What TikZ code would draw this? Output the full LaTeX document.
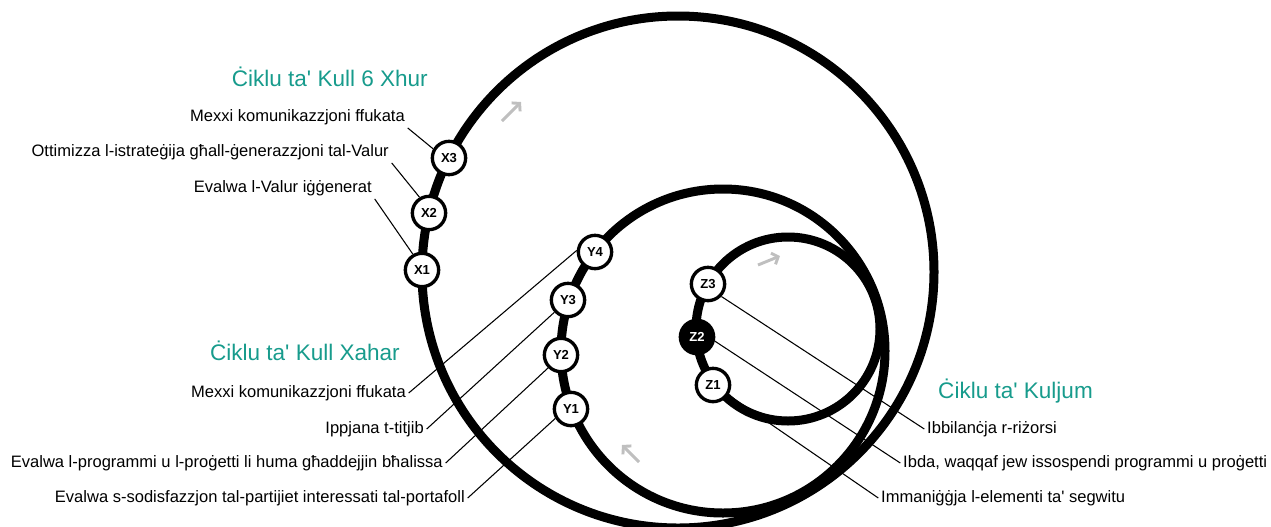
\documentclass[tikz,border=0pt]{standalone}
\usepackage{fontspec}
\setmainfont{Liberation Sans}[Ligatures=TeXOff]
\usetikzlibrary{arrows.meta}
\definecolor{tealtitle}{RGB}{23,155,140}
\definecolor{flowgray}{RGB}{191,191,191}
\begin{document}
\begin{tikzpicture}[x=0.75pt,y=-0.75pt,
  cycleloop/.style={line width=6.75pt},
  stage/.style={circle,draw,line width=2.5pt,fill=white,minimum size=25pt,inner sep=0pt,font=\fontsize{9.8}{10}\selectfont\bfseries},
  stagedark/.style={stage,fill=black,text=white},
  lbl/.style={font=\fontsize{12.4}{14}\selectfont,inner sep=2pt,text height=9pt,text depth=3pt},
  cycletitle/.style={font=\fontsize{16.9}{20}\selectfont,text=tealtitle,inner sep=2pt,text height=12pt,text depth=4pt},
  leader/.style={line width=0.8pt},
  flow/.style={flowgray,line width=2.2pt,-{Straight Barb[length=4pt,width=9pt]}}
]
\clip (0,0) rectangle (1271,526);

% loops
\draw[cycleloop] (678,272) circle[radius=192pt];
\draw[cycleloop] (723,351) circle[radius=121.5pt];
\draw[cycleloop] (788,329) circle[radius=69pt];

% direction arrows
\draw[flow] (502,121) -- (521,102);
\draw[flow] (639,462) -- (622,445);
\draw[flow] (758,265) -- (780,256);

% stage nodes
\node[stage] (X1) at (422,270) {X1};
\node[stage] (X2) at (429,213) {X2};
\node[stage] (X3) at (449,158) {X3};
\node[stage] (Y1) at (571,409) {Y1};
\node[stage] (Y2) at (561,355) {Y2};
\node[stage] (Y3) at (568,300) {Y3};
\node[stage] (Y4) at (595,252) {Y4};
\node[stage] (Z1) at (713,385) {Z1};
\node[stagedark] (Z2) at (697,337) {Z2};
\node[stage] (Z3) at (708,284) {Z3};

% titles
\node[cycletitle,anchor=east] (tX) at (430.7,81) {Ċiklu ta' Kull 6 Xhur};
\node[cycletitle,anchor=east] (tY) at (402.7,355) {Ċiklu ta' Kull Xahar};
\node[cycletitle,anchor=west] (tZ) at (935.3,393) {Ċiklu ta' Kuljum};

% labels
\node[lbl,anchor=east] (lX3) at (407.7,117) {Mexxi komunikazzjoni ffukata};
\node[lbl,anchor=east] (lX2) at (391.7,152) {Ottimizza l-istrateġija għall-ġenerazzjoni tal-Valur};
\node[lbl,anchor=east] (lX1) at (374.7,188) {Evalwa l-Valur iġġenerat};

\node[lbl,anchor=east] (lY4) at (408.7,393) {Mexxi komunikazzjoni ffukata};
\node[lbl,anchor=east] (lY3) at (426.7,429) {Ippjana t-titjib};
\node[lbl,anchor=east] (lY2) at (445.7,463) {Evalwa l-programmi u l-proġetti li huma għaddejjin bħalissa};
\node[lbl,anchor=east] (lY1) at (467.7,498) {Evalwa s-sodisfazzjon tal-partijiet interessati tal-portafoll};

\node[lbl,anchor=west] (lZ3) at (924.3,429) {Ibbilanċja r-riżorsi};
\node[lbl,anchor=west] (lZ2) at (900.3,463) {Ibda, waqqaf jew issospendi programmi u proġetti};
\node[lbl,anchor=west] (lZ1) at (878.3,498) {Immaniġġja l-elementi ta' segwitu};

% leader lines
\draw[leader] (lX3.south east) -- (X3.150);
\draw[leader] (lX2.south east) -- (X2.121);
\draw[leader] (lX1.south east) -- (X1.120);
\draw[leader] (lY4.east) -- (Y4.175);
\draw[leader] (lY3.east) -- (Y3.222);
\draw[leader] (lY2.east) -- (Y2.225);
\draw[leader] (lY1.east) -- (Y1.211);
\draw[leader] (Z3.-43) -- (lZ3.west);
\draw[leader] (Z2.-13) -- (lZ2.west);
\draw[leader] (Z1.-33) -- (lZ1.west);
\end{tikzpicture}
\end{document}
